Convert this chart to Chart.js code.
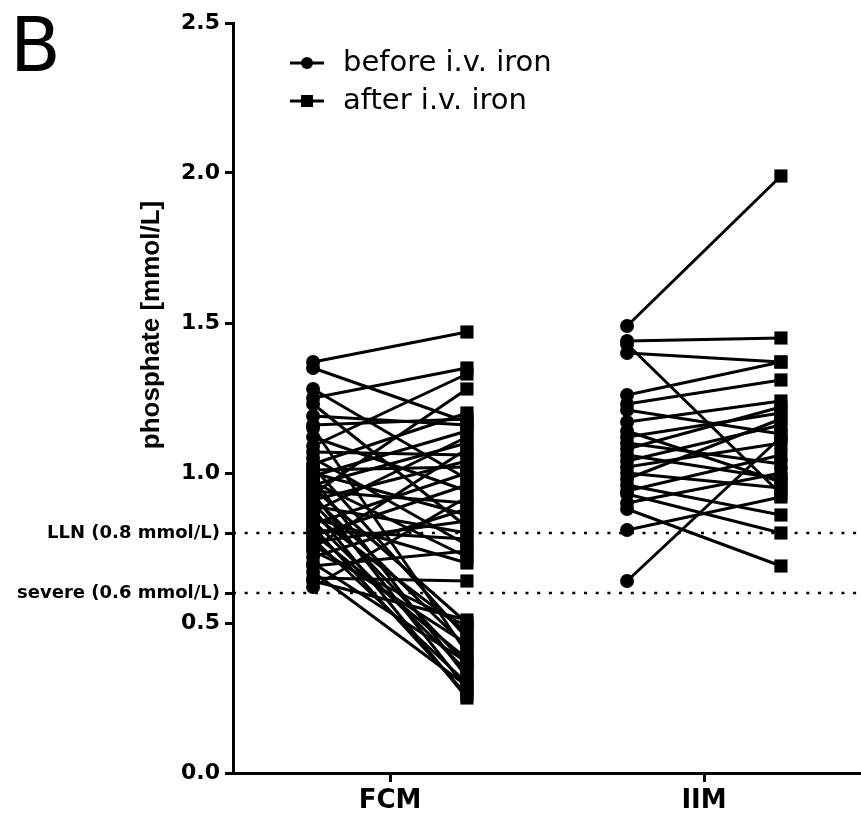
<!DOCTYPE html>
<html>
<head>
<meta charset="utf-8">
<script src="https://cdn.jsdelivr.net/npm/chart.js@4.4.1/dist/chart.umd.min.js"></script>
<style>
  body { margin: 0; background: #fff; }
  #wrap { width: 861px; height: 817px; }
</style>
</head>
<body>
<div id="wrap"><canvas id="phosChart" width="861" height="817"></canvas></div>
<script>
// Categories and paired values (mmol/L)
const categories = ['FCM', 'IIM'];

const fcmBefore = [1.37, 1.35, 1.28, 1.25, 1.23, 1.19, 1.16, 1.15, 1.12, 1.09,
                   1.07, 1.05, 1.03, 1.02, 1.01, 1.00, 0.99, 0.98, 0.97, 0.96,
                   0.95, 0.94, 0.93, 0.93, 0.92, 0.91, 0.90, 0.89, 0.88, 0.87,
                   0.86, 0.85, 0.84, 0.83, 0.82, 0.81, 0.80, 0.79, 0.78, 0.77,
                   0.76, 0.75, 0.74, 0.72, 0.70, 0.69, 0.67, 0.65, 0.64, 0.62];
const fcmAfter  = [1.47, 1.17, 0.98, 1.35, 0.82, 1.16, 1.18, 0.40, 0.94, 1.33,
                   1.06, 0.76, 1.20, 0.45, 1.02, 0.86, 1.14, 0.32, 0.72, 1.10,
                   0.50, 0.90, 0.28, 1.28, 0.42, 1.04, 0.36, 0.80, 0.25, 1.12,
                   0.47, 0.70, 0.34, 1.00, 0.26, 0.78, 0.38, 0.96, 0.30, 0.84,
                   0.43, 1.08, 0.49, 0.88, 0.37, 0.74, 0.29, 0.64, 0.51, 0.92];

const iimBefore = [1.49, 1.44, 1.43, 1.40, 1.26, 1.23, 1.21, 1.17, 1.14, 1.12,
                   1.10, 1.08, 1.06, 1.04, 1.02, 1.00, 0.98, 0.96, 0.94, 0.93,
                   0.90, 0.88, 0.81, 0.64];
const iimAfter  = [1.99, 1.45, 0.93, 1.37, 1.37, 1.31, 1.13, 1.24, 0.97, 1.20,
                   1.03, 1.22, 0.98, 1.16, 1.10, 0.95, 1.18, 0.86, 1.06, 0.80,
                   1.00, 0.69, 0.92, 1.12];

const yTicks = [0, 0.5, 1.0, 1.5, 2.0, 2.5];
const refValues = [0.8, 0.6];
const refLabels = ['LLN (0.8 mmol/L)', 'severe (0.6 mmol/L)'];
const legendLabels = ['before i.v. iron', 'after i.v. iron'];

const OFFSET = 0.245; // before/after spread around each group
const datasets = [];

function addPairs(before, after, g) {
    before.forEach((b, i) => {
        datasets.push({
            data: [{ x: g - OFFSET, y: b }, { x: g + OFFSET, y: after[i] }],
            borderColor: '#000',
            backgroundColor: '#000',
            borderWidth: 3,
            pointStyle: ['circle', 'rect'],
            pointRadius: [7, 9.3],
            pointBorderWidth: 0,
            pointBackgroundColor: '#000'
        });
    });
}
addPairs(fcmBefore, fcmAfter, 0);
addPairs(iimBefore, iimAfter, 1);

// dotted reference lines
refValues.forEach(v => {
    datasets.push({
        data: [{ x: -0.5, y: v }, { x: 1.5, y: v }],
        borderColor: '#000',
        borderWidth: 2.5,
        borderDash: [3, 8.7],
        pointRadius: 0,
        order: 1
    });
});

// "B" panel letter, rotated axis title and the legend
const decorPlugin = {
    id: 'decor',
    afterDraw(chart) {
        const ctx = chart.ctx;
        ctx.save();
        ctx.fillStyle = '#000';
        ctx.strokeStyle = '#000';
        ctx.font = '74px "DejaVu Sans", sans-serif';
        ctx.textBaseline = 'alphabetic';
        ctx.fillText('B', 10, 71);

        ctx.save();
        ctx.translate(152, 325);
        ctx.rotate(-Math.PI / 2);
        ctx.font = 'bold 26px "Liberation Sans", Arial, sans-serif';
        ctx.textAlign = 'center';
        ctx.textBaseline = 'middle';
        ctx.fillText('phosphate [mmol/L]', 0, 0);
        ctx.restore();

        const rows = [63, 101];
        ctx.font = '29px "DejaVu Sans", sans-serif';
        ctx.textBaseline = 'middle';
        legendLabels.forEach((txt, i) => {
            const y = rows[i];
            ctx.lineWidth = 3;
            ctx.beginPath();
            ctx.moveTo(290, y);
            ctx.lineTo(324, y);
            ctx.stroke();
            ctx.beginPath();
            if (i === 0) {
                ctx.arc(307, y, 6, 0, Math.PI * 2);
            } else {
                ctx.rect(301, y - 6, 12, 12);
            }
            ctx.fill();
            ctx.fillText(txt, 343, y);
        });
        ctx.restore();
    }
};

const tickFont = { family: '"DejaVu Sans", sans-serif', size: 22, weight: 'bold' };
const refFont = { family: '"DejaVu Sans", sans-serif', size: 18, weight: 'bold' };

new Chart(document.getElementById('phosChart'), {
    type: 'line',
    data: { datasets: datasets },
    options: {
        responsive: false,
        animation: false,
        events: [],
        layout: { autoPadding: false, padding: { top: 23, right: 0, bottom: 0, left: 0 } },
        plugins: { legend: { display: false }, tooltip: { enabled: false } },
        scales: {
            x: {
                type: 'linear',
                min: -0.5,
                max: 1.5,
                afterBuildTicks: (scale) => {
                    scale.ticks = categories.map((c, i) => ({ value: i }));
                },
                afterFit: (scale) => { scale.height = 44; },
                ticks: {
                    autoSkip: false,
                    maxRotation: 0,
                    color: '#000',
                    padding: 4,
                    font: { family: '"DejaVu Sans", sans-serif', size: 26, weight: 'bold' },
                    callback: (v) => categories[v] !== undefined ? categories[v] : ''
                },
                grid: { drawOnChartArea: false, drawTicks: true, tickLength: 9, tickWidth: 3, tickColor: '#000' },
                border: { display: true, width: 3, color: '#000' }
            },
            y: {
                min: 0,
                max: 2.5,
                afterBuildTicks: (scale) => {
                    scale.ticks = yTicks.concat(refValues).sort((a, b) => a - b).map(v => ({ value: v }));
                },
                afterFit: (scale) => { scale.width = 233; },
                ticks: {
                    autoSkip: false,
                    color: '#000',
                    padding: 5,
                    font: (c) => (c.tick && refValues.includes(c.tick.value)) ? refFont : tickFont,
                    callback: (v) => {
                        const k = refValues.indexOf(v);
                        return k >= 0 ? refLabels[k] : v.toFixed(1);
                    }
                },
                grid: { drawOnChartArea: false, drawTicks: true, tickLength: 8, tickWidth: 3, tickColor: '#000' },
                border: { display: true, width: 3, color: '#000' }
            }
        }
    },
    plugins: [decorPlugin]
});
</script>
</body>
</html>
